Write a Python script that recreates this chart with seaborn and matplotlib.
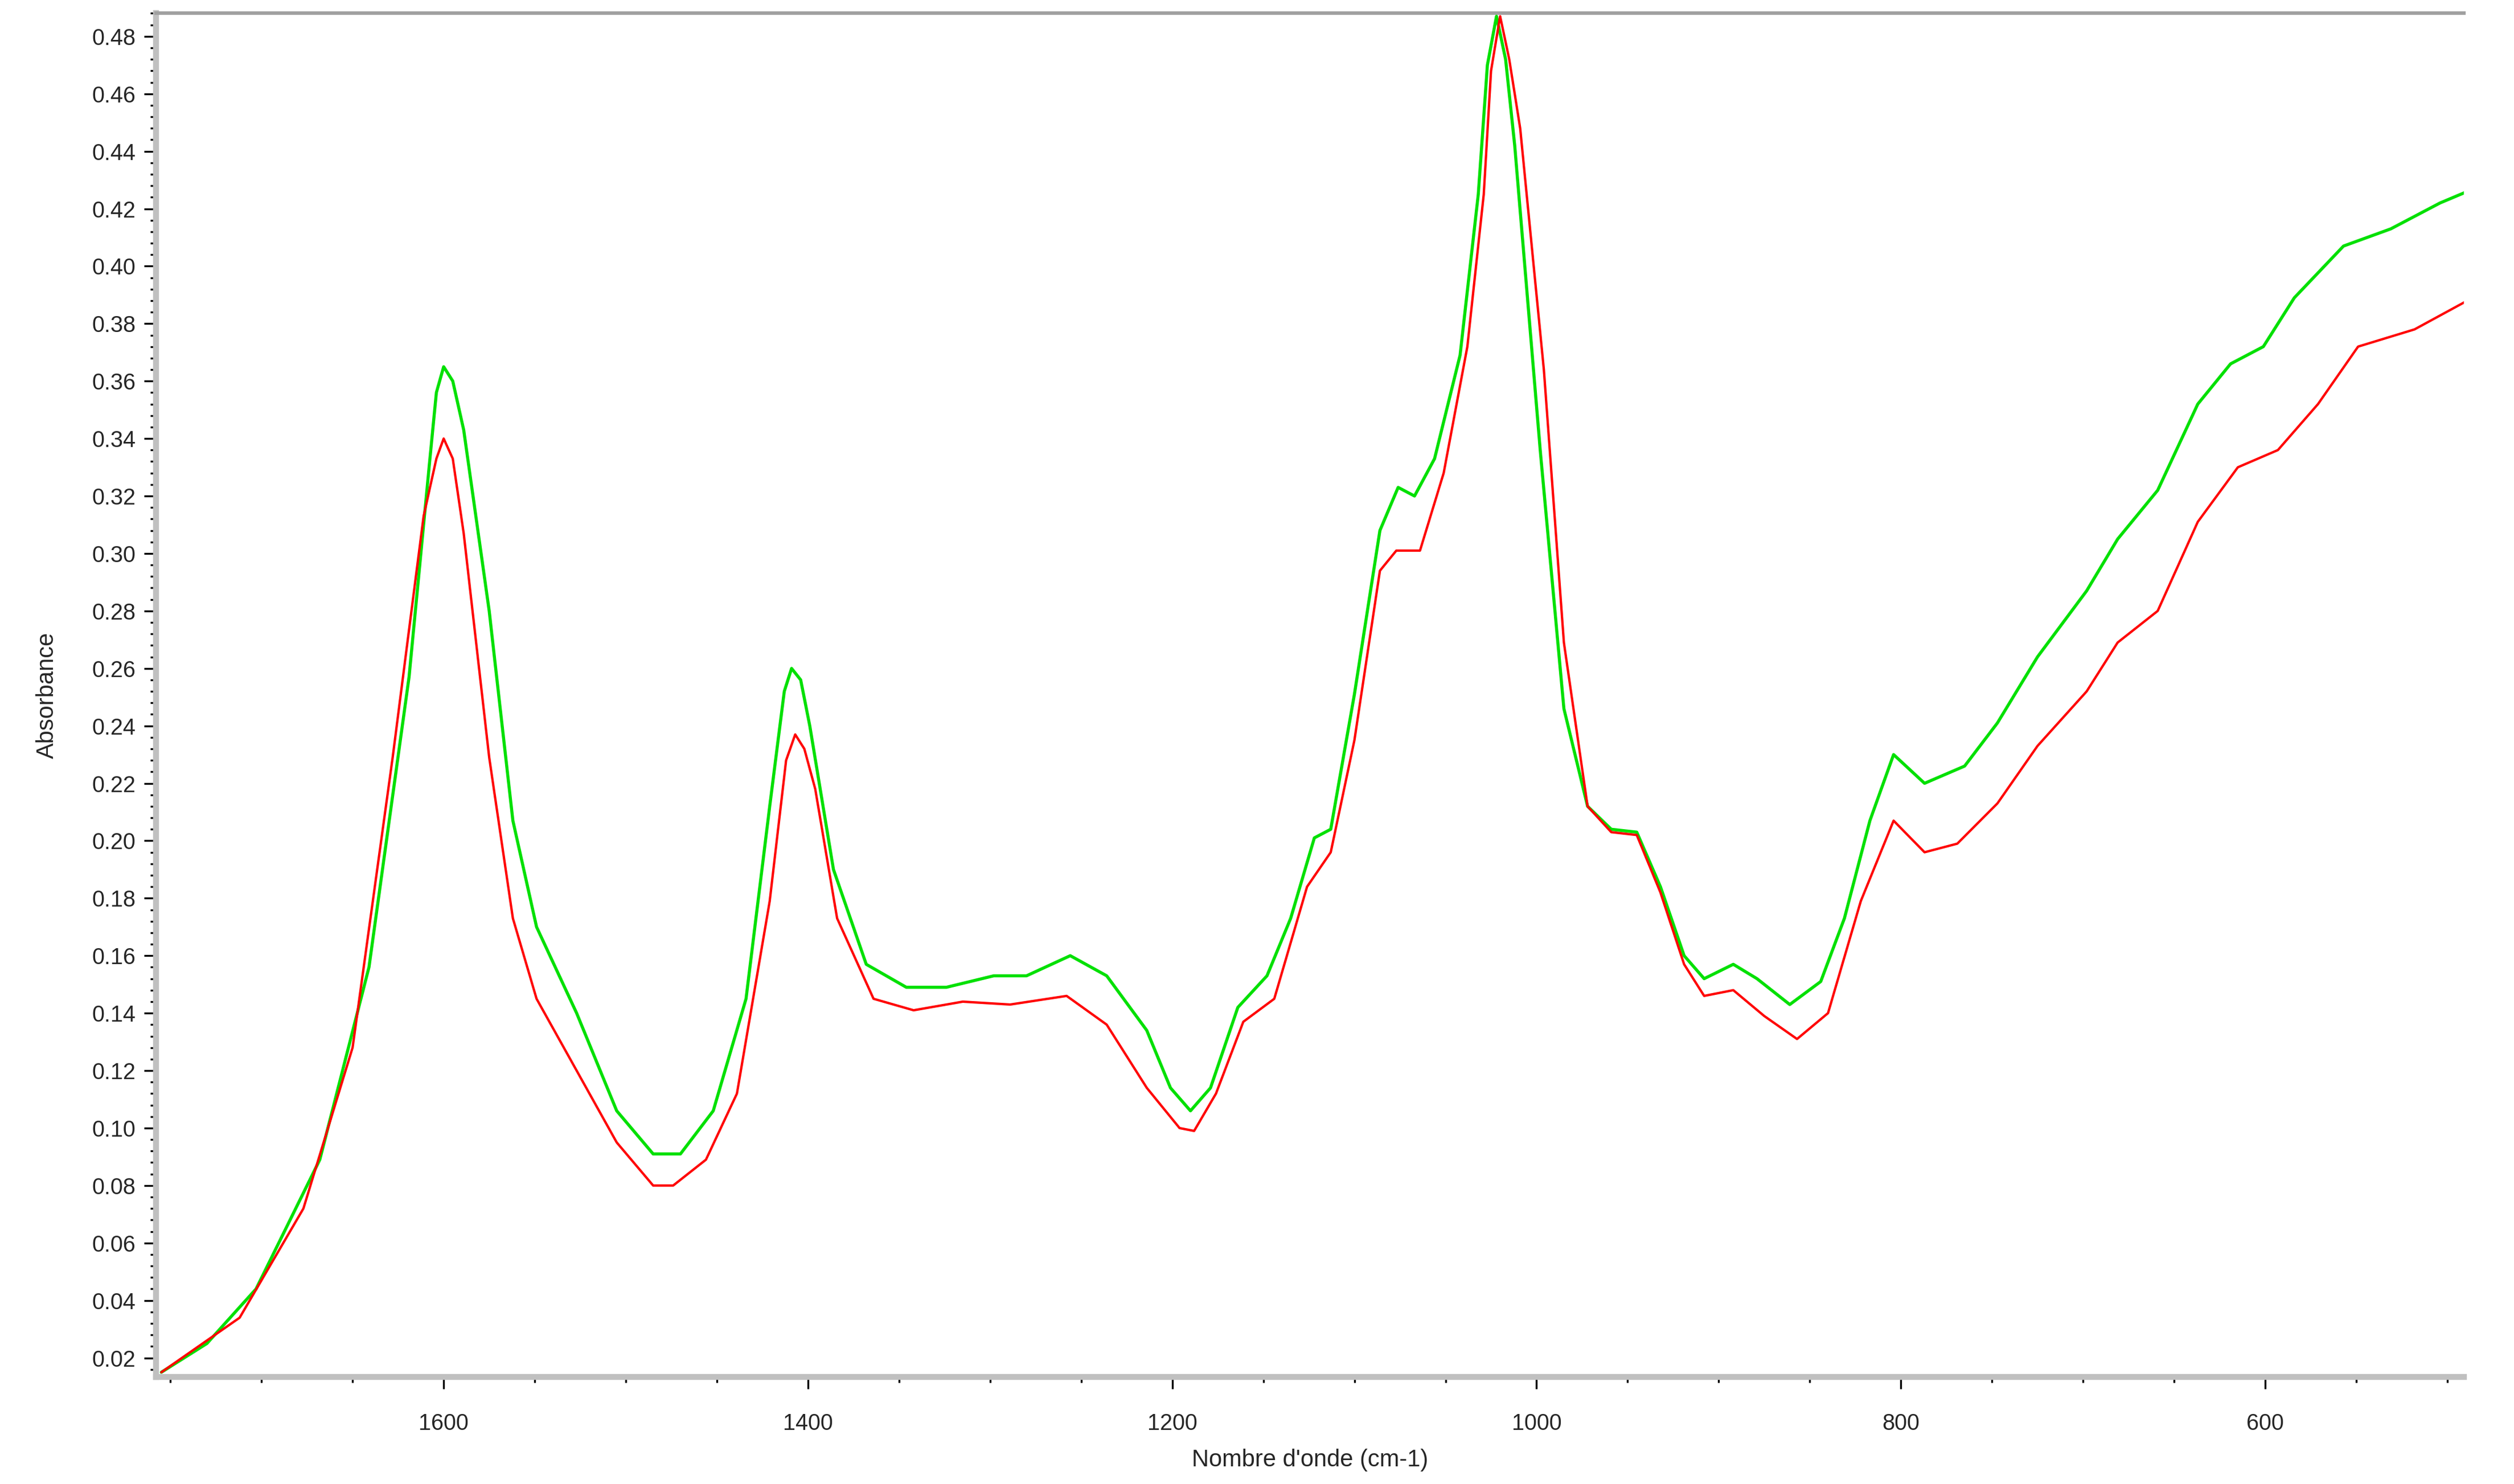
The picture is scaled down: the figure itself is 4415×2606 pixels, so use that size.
import numpy as np
import pandas as pd
import seaborn as sns
import matplotlib.pyplot as plt
from matplotlib.ticker import MultipleLocator, FormatStrFormatter

# Spectre vert
wn_green = [1755, 1730, 1703, 1668, 1641, 1619, 1608, 1604, 1600, 1595, 1589, 1575, 1562, 1549, 1527, 1505,
            1485, 1470, 1452, 1434, 1421, 1413, 1409, 1404, 1399, 1386, 1368, 1346, 1324, 1298, 1280, 1256,
            1236, 1214, 1201, 1190, 1179, 1164, 1148, 1135, 1122, 1113, 1100, 1086, 1076, 1067,
            1056, 1042, 1032, 1027, 1022, 1017, 1012, 998, 985, 972, 959, 945, 932, 919, 908, 892, 879, 861,
            844, 831, 817, 804, 787, 765, 747, 725, 698, 681, 659, 637, 619, 601, 584, 557, 531,
            504, 489]
abs_green = [0.015, 0.025, 0.044, 0.089, 0.156, 0.257, 0.330, 0.356, 0.365, 0.360, 0.343, 0.280, 0.207, 0.170,
             0.140, 0.106, 0.091, 0.091, 0.106, 0.145, 0.212, 0.252, 0.260, 0.256, 0.240, 0.190, 0.157, 0.149,
             0.149, 0.153, 0.153, 0.160, 0.153, 0.134, 0.114, 0.106, 0.114, 0.142, 0.153, 0.173,
             0.201, 0.204, 0.251, 0.308, 0.323, 0.320, 0.333, 0.369, 0.425, 0.470, 0.487, 0.472, 0.442, 0.336,
             0.246, 0.212, 0.204, 0.203, 0.184, 0.160, 0.152, 0.157, 0.152, 0.143, 0.151, 0.173,
             0.207, 0.230, 0.220, 0.226, 0.241, 0.264, 0.287, 0.305, 0.322, 0.352, 0.366, 0.372,
             0.389, 0.407, 0.413, 0.422, 0.426]

# Spectre rouge
wn_red = [1755, 1712, 1677, 1650, 1628, 1611, 1604, 1600, 1595, 1589, 1575, 1562, 1549, 1527, 1505, 1485,
          1474, 1456, 1439, 1421, 1412, 1407, 1402, 1396, 1384, 1364, 1342, 1315, 1289, 1258, 1236, 1214,
          1196, 1188, 1176, 1161, 1144, 1126, 1113, 1100, 1086, 1077, 1064, 1051, 1038, 1029, 1025,
          1020, 1015, 1009, 996, 985, 972, 959, 945, 932, 919, 908, 892, 875, 857, 840, 822, 804, 787,
          769, 747, 725, 698, 681, 659, 637, 615, 593, 571, 549, 518, 489]
abs_red = [0.015, 0.034, 0.072, 0.128, 0.229, 0.313, 0.333, 0.340, 0.333, 0.307, 0.229, 0.173, 0.145, 0.120,
           0.095, 0.080, 0.080, 0.089, 0.112, 0.179, 0.228, 0.237, 0.232, 0.218, 0.173, 0.145, 0.141, 0.144,
           0.143, 0.146, 0.136, 0.114, 0.100, 0.099, 0.112, 0.137, 0.145, 0.184, 0.196, 0.235,
           0.294, 0.301, 0.301, 0.328, 0.372, 0.425, 0.468, 0.487, 0.472, 0.448, 0.364, 0.269, 0.212, 0.203,
           0.202, 0.182, 0.157, 0.146, 0.148, 0.139, 0.131, 0.140, 0.179, 0.207, 0.196, 0.199,
           0.213, 0.233, 0.252, 0.269, 0.280, 0.311, 0.330, 0.336, 0.352, 0.372, 0.378, 0.388]

green = pd.DataFrame({"wn": wn_green, "a": abs_green})
red = pd.DataFrame({"wn": wn_red, "a": abs_red})

sns.set_style("white")
plt.rcParams['font.family'] = ['Liberation Sans', 'DejaVu Sans']

fig = plt.figure(figsize=(4415 / 300, 2606 / 300), dpi=300)
ax = fig.add_axes([0.062, 0.072, 0.918, 0.919])

sns.lineplot(data=green, x="wn", y="a", color="#00e000", lw=1.3, ax=ax)
sns.lineplot(data=red, x="wn", y="a", color="#ff0000", lw=1.0, ax=ax)

ax.set_xlim(1758, 491)
ax.set_ylim(0.0133, 0.488)

ax.xaxis.set_major_locator(MultipleLocator(200))
ax.xaxis.set_minor_locator(MultipleLocator(50))
ax.yaxis.set_major_locator(MultipleLocator(0.02))
ax.yaxis.set_minor_locator(MultipleLocator(0.004))
ax.yaxis.set_major_formatter(FormatStrFormatter('%.2f'))

ax.tick_params(axis='both', which='major', direction='out', length=5, width=0.8,
               color='black', labelsize=9.5, bottom=True, left=True)
ax.tick_params(axis='both', which='minor', direction='out', length=2.5, width=0.8,
               color='black', bottom=True, left=True)
ax.tick_params(axis='x', which='major', pad=10)

for side in ['left', 'bottom']:
    ax.spines[side].set_color('#c0c0c0')
    ax.spines[side].set_linewidth(2.5)
ax.spines['top'].set_color('#a0a0a0')
ax.spines['top'].set_linewidth(1.5)
ax.spines['right'].set_visible(False)

ax.set_xlabel("Nombre d'onde (cm-1)", fontsize=10, labelpad=6)
ax.set_ylabel("Absorbance", fontsize=10, labelpad=14)

fig.savefig("out.png", dpi=300)
